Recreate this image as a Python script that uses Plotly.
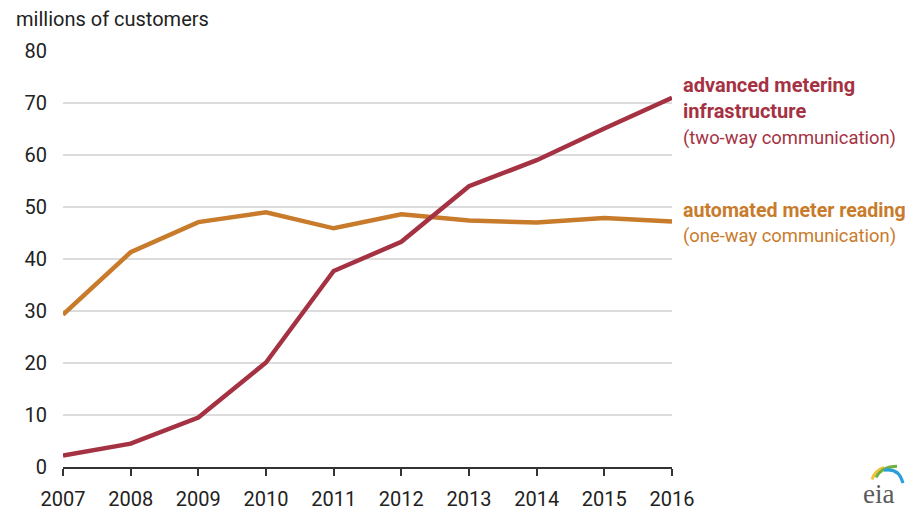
import plotly.graph_objects as go

years = [2007, 2008, 2009, 2010, 2011, 2012, 2013, 2014, 2015, 2016]
ami = [2.2, 4.5, 9.5, 20.1, 37.7, 43.3, 54.0, 59.0, 65.1, 71.0]
amr = [29.3, 41.3, 47.1, 49.0, 45.9, 48.6, 47.4, 47.0, 47.9, 47.2]
y_ticks = [0, 10, 20, 30, 40, 50, 60, 70, 80]

RED = "#a53243"
ORANGE = "#c97b2c"
FONT = "Roboto, Liberation Sans, sans-serif"
FS = 20

fig = go.Figure()
fig.add_trace(go.Scatter(x=years, y=amr, mode="lines",
                         line=dict(color=ORANGE, width=4.5), hoverinfo="skip"))
fig.add_trace(go.Scatter(x=years, y=ami, mode="lines",
                         line=dict(color=RED, width=4.5), hoverinfo="skip"))

fig.update_layout(
    width=911, height=502,
    margin=dict(l=55, r=247, t=43, b=43, autoexpand=False),
    paper_bgcolor="white", plot_bgcolor="white",
    showlegend=False,
    font=dict(family=FONT, color="#222", size=FS),
    xaxis=dict(range=[2007, 2016], tickvals=years, ticktext=[str(y) for y in years],
               showgrid=False, showline=True, linecolor="#333", linewidth=2,
               ticks="outside", ticklen=7, tickcolor="#333", tickwidth=1.5,
               ticklabelstandoff=6, automargin=False,
               tickfont=dict(size=FS, family=FONT, color="#222"), zeroline=False),
    yaxis=dict(range=[0, 80], tickvals=y_ticks, showgrid=True, gridcolor="#dcdcdc",
               gridwidth=1.5, zeroline=False, showline=False, ticks="",
               ticklabelstandoff=15, automargin=False,
               tickfont=dict(size=FS, family=FONT, color="#222")),
)

fig.add_annotation(text="millions of customers", xref="paper", yref="paper", x=0, y=1,
                   xanchor="left", yanchor="middle", xshift=-49, yshift=32,
                   showarrow=False, font=dict(size=FS, family=FONT, color="#222"))

labels = [
    ("<b>advanced metering</b>", 73.4, RED, 20),
    ("<b>infrastructure</b>", 68.4, RED, 20),
    ("(two-way communication)", 63.2, RED, 18.4),
    ("<b>automated meter reading</b>", 49.4, ORANGE, 19.6),
    ("(one-way communication)", 44.4, ORANGE, 18.4),
]
for text, yv, c, fs in labels:
    fig.add_annotation(text=text, xref="paper", yref="y", x=1, y=yv,
                       xanchor="left", yanchor="middle", xshift=9,
                       showarrow=False, align="left",
                       font=dict(size=fs, family=FONT, color=c))

# eia logo
fig.add_annotation(text="eia", xref="paper", yref="paper", x=1, y=0,
                   xanchor="center", yanchor="middle", xshift=206, yshift=-27,
                   showarrow=False, borderpad=0,
                   font=dict(size=27, family="Liberation Serif, DejaVu Serif, serif", color="#5a5a5a"))
fig.add_shape(type="path", xref="paper", yref="paper",
              path="M 1.3284,-0.0300 Q 1.3333,-0.0080 1.3481,-0.0010",
              line=dict(color="#f2c23a", width=3))
fig.add_shape(type="path", xref="paper", yref="paper",
              path="M 1.3350,-0.0250 Q 1.3448,0.0020 1.3695,0.0020",
              line=dict(color="#6fb043", width=3))
fig.add_shape(type="path", xref="paper", yref="paper",
              path="M 1.3481,-0.0080 Q 1.3727,-0.0010 1.3793,-0.0390",
              line=dict(color="#2a9fd8", width=3))

fig.write_html("out.html")
